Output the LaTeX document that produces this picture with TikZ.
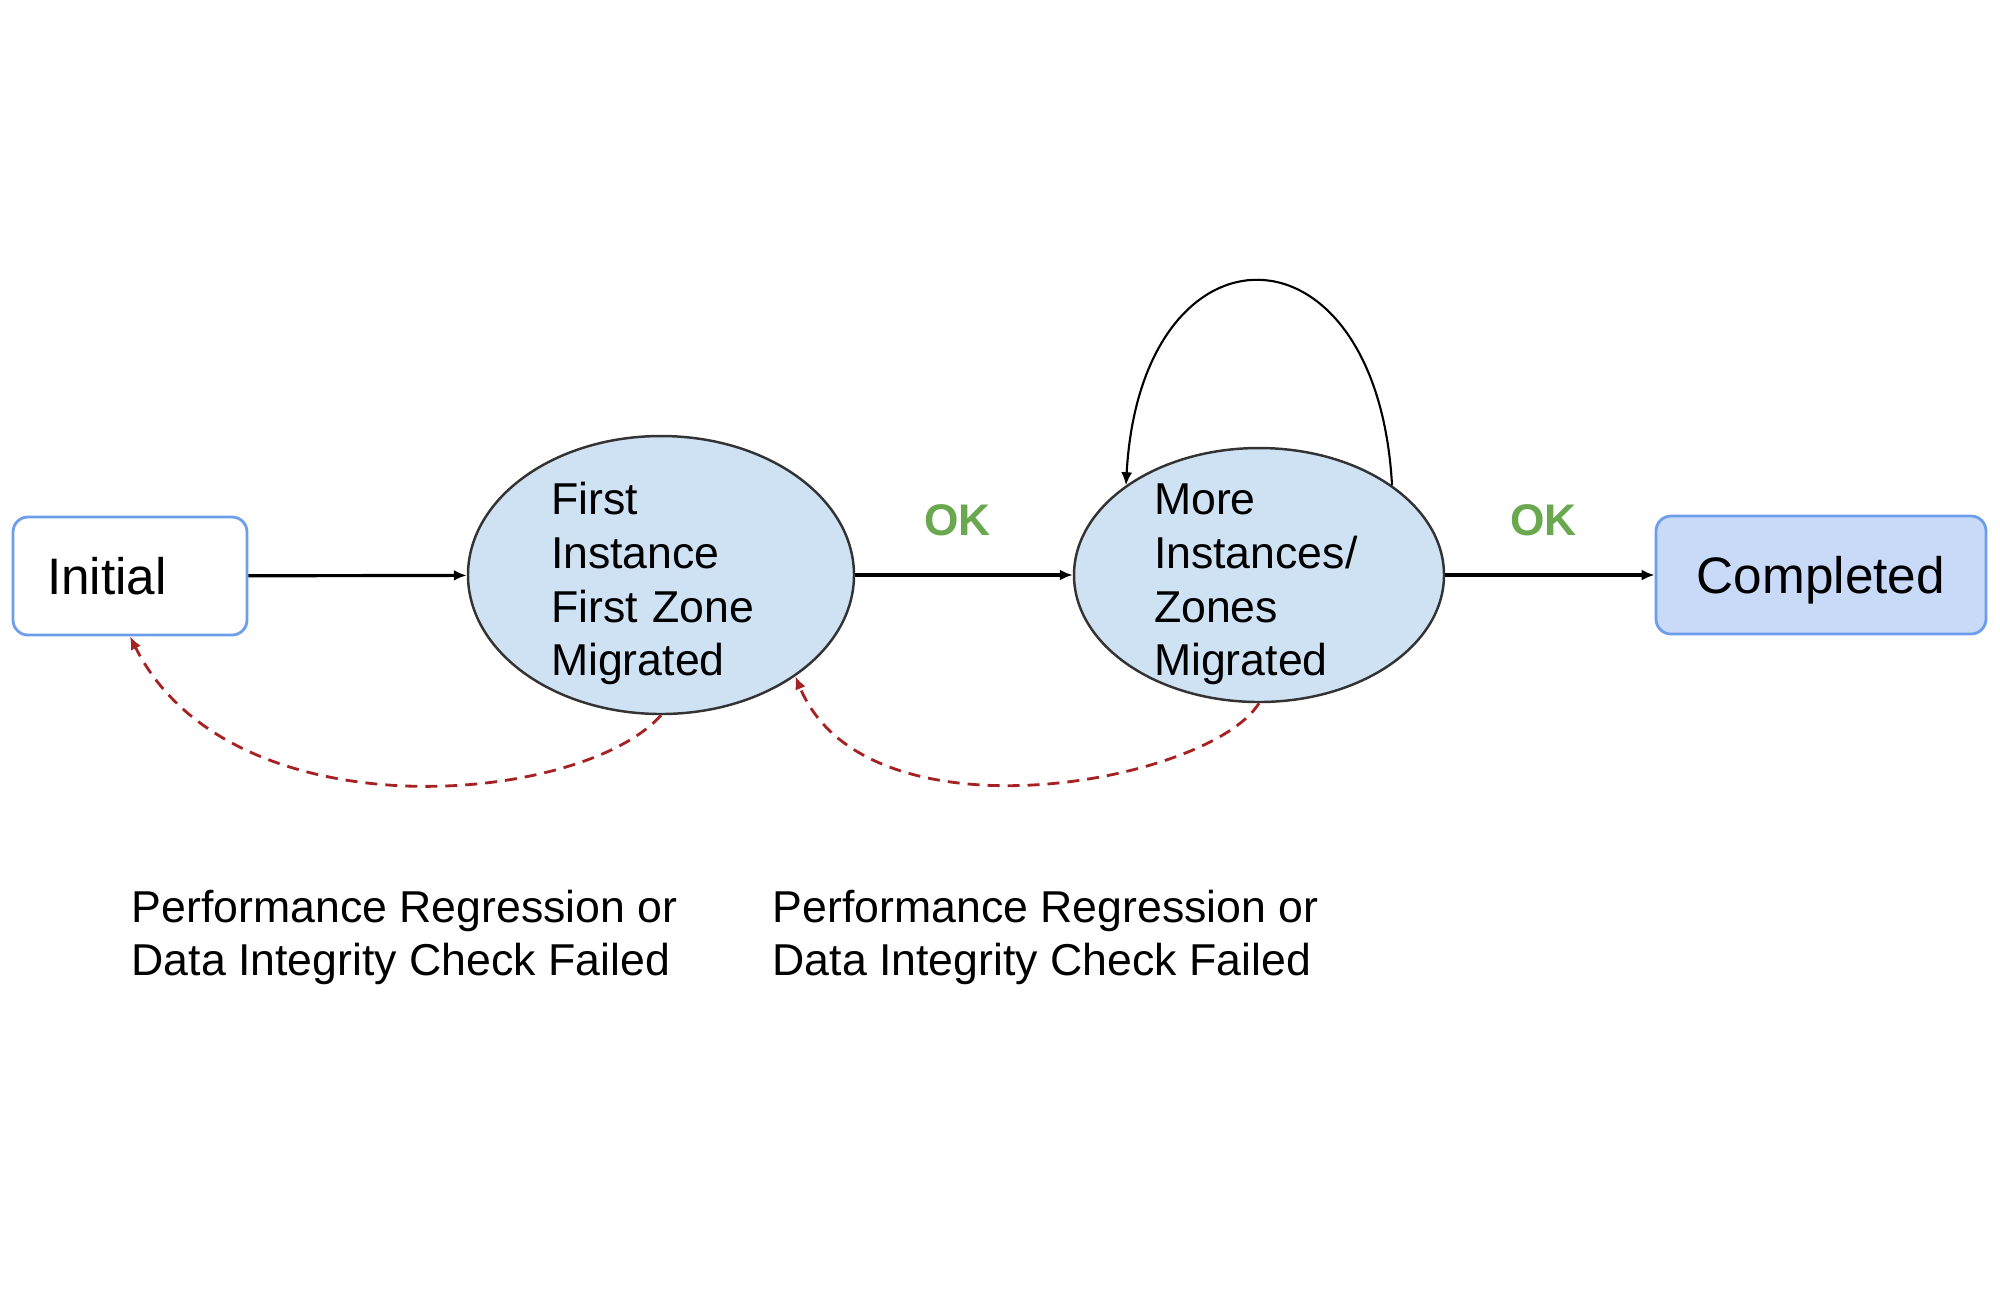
\documentclass[tikz,border=0pt]{standalone}
\usepackage{fontspec}
\setmainfont{Liberation Sans}
\usetikzlibrary{arrows.meta, shapes.geometric}
\definecolor{boxblue}{RGB}{109,158,235}
\definecolor{donefill}{RGB}{201,218,248}
\definecolor{statefill}{RGB}{207,226,243}
\definecolor{okgreen}{RGB}{106,168,79}
\definecolor{failred}{RGB}{166,34,34}

\begin{document}
\begin{tikzpicture}[>={Latex[length=1.3mm,width=1.1mm]},
    box/.style={rectangle,rounded corners=0.15cm,draw=boxblue,line width=0.8pt,minimum height=1.18cm,text depth=0pt,font=\fontsize{14.6}{17}\selectfont},
    mstate/.style={ellipse,draw=black!80,fill=statefill,line width=0.7pt,inner sep=-0.25cm,text height=0.5cm,align=left},
    okl/.style={text=okgreen,font=\bfseries\fontsize{12.6}{15}\selectfont},
    fail/.style={draw=failred,line width=0.8pt,dash pattern=on 1.2mm off 0.8mm}]
\useasboundingbox (0,0) rectangle (20,-12.95);
%\tikzstyle{note}=[align=left,inner sep=0pt]
\begin{scope}[every node/.style={font=\fontsize{12.7}{15.25}\selectfont}]
    \node[box,fill=white,text width=1.66cm,inner xsep=0.34cm,align=left] (init) at (1.30,-5.76) {Initial};
    \node[mstate,text width=2.2cm,minimum width=3.86cm,minimum height=2.78cm] (first) at (6.61,-5.75) {First\\Instance\\First Zone\\Migrated};
    \node[mstate,text width=2.1cm,minimum width=3.70cm,minimum height=2.54cm] (more) at (12.59,-5.75) {More\\Instances/\\Zones\\Migrated};
    \node[box,fill=donefill,minimum width=3.30cm] (done) at (18.21,-5.75) {Completed};

    \path [->,line width=0.9pt] (init) edge (first);
    \path [->,line width=0.9pt] (first) edge node[okl,pos=0.47,yshift=0.55cm] {OK} (more);
    \path [->,line width=0.9pt] (more) edge node[okl,pos=0.47,yshift=0.55cm] {OK} (done);
    \draw [->,line width=0.6pt] (more.34) .. controls +(-0.15,2.72) and +(0.15,2.72) .. (more.146);

    \draw[fail,-{Latex[length=1.3mm,width=1.1mm]},failred] (first.south) .. controls +(-0.8,-0.9) and +(1.0,-2.0) .. (init.south);
    \draw[fail,-{Latex[length=1.3mm,width=1.1mm]},failred] (more.south) .. controls +(-0.5,-0.8) and +(0.7,-1.7) .. (first.-37);

    \node[align=left,inner sep=0pt,anchor=north west] (note1) at (1.31,-8.89) {Performance Regression or\\Data Integrity Check Failed};
    \node[align=left,inner sep=0pt,anchor=north west] (note2) at (7.72,-8.89) {Performance Regression or\\Data Integrity Check Failed};
\end{scope}
\end{tikzpicture}
\end{document}
